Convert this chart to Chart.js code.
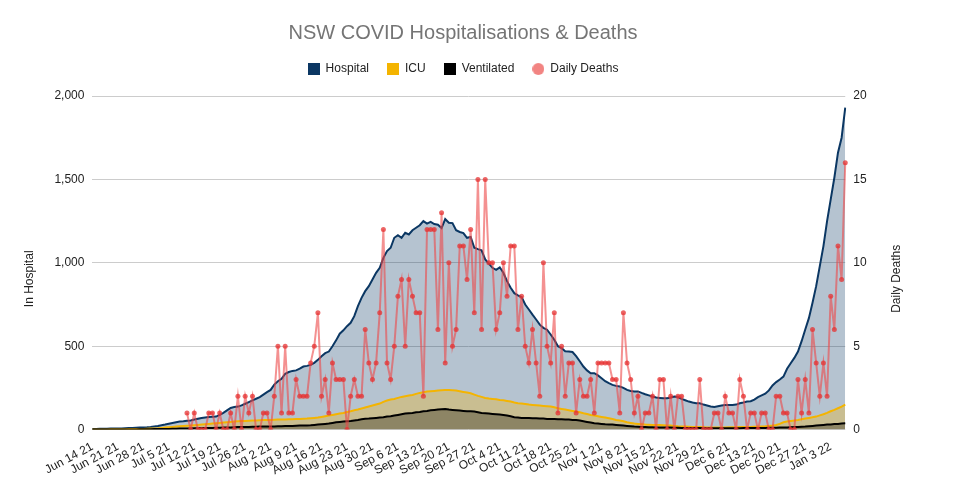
<!DOCTYPE html>
<html lang="en">
<head>
    <meta charset="UTF-8">
    <title>NSW COVID Hospitalisations & Deaths</title>
    <script src="https://cdn.jsdelivr.net/npm/chart.js@4.4.0/dist/chart.umd.min.js"></script>
    <style>
        body { margin: 0; background: #fff; }
        #wrap { width: 973px; height: 480px; }
    </style>
</head>
<body>
<div id="wrap"><canvas id="my-chart"></canvas></div>
<script>

    // week tick labels (every 7th day, starting Jun 14 2021)
    const weekLabels = ['Jun 14 21', 'Jun 21 21', 'Jun 28 21', 'Jul 5 21', 'Jul 12 21', 'Jul 19 21', 'Jul 26 21',
        'Aug 2 21', 'Aug 9 21', 'Aug 16 21', 'Aug 23 21', 'Aug 30 21', 'Sep 6 21', 'Sep 13 21', 'Sep 20 21',
        'Sep 27 21', 'Oct 4 21', 'Oct 11 21', 'Oct 18 21', 'Oct 25 21', 'Nov 1 21', 'Nov 8 21', 'Nov 15 21',
        'Nov 22 21', 'Nov 29 21', 'Dec 6 21', 'Dec 13 21', 'Dec 20 21', 'Dec 27 21', 'Jan 3 22'];

    const hospital = [
        4, 4, 5, 5, 5, 6, 6, 7, 7, 8,
        9, 10, 11, 12, 13, 14, 16, 19, 22, 26,
        30, 35, 40, 44, 48, 50, 53, 55, 60, 65,
        70, 73, 75, 77, 78, 88, 100, 115, 130, 135,
        138, 145, 155, 165, 175, 185, 195, 210, 225, 238,
        270, 290, 305, 335, 345, 352, 355, 365, 378, 382,
        388, 400, 418, 440, 458, 468, 500, 535, 575, 595,
        620, 640, 680, 740, 790, 830, 860, 900, 940, 970,
        1030, 1070, 1090, 1150, 1165, 1150, 1180, 1170, 1195, 1210,
        1225, 1250, 1235, 1245, 1232, 1228, 1208, 1262, 1240, 1238,
        1195, 1185, 1178, 1150, 1155, 1090, 1082, 1075, 1020, 995,
        970, 958, 973, 940, 890, 850, 818, 805, 795, 750,
        720, 689, 660, 629, 610, 599, 570, 539, 500, 488,
        470, 468, 465, 440, 410, 378, 355, 338, 338, 325,
        308, 290, 278, 268, 262, 258, 250, 238, 232, 228,
        229, 220, 212, 205, 198, 192, 190, 188, 188, 192,
        198, 195, 184, 176, 168, 162, 158, 158, 150, 144,
        138, 136, 140, 144, 148, 148, 148, 150, 158, 162,
        168, 170, 180, 195, 205, 215, 235, 265, 285, 300,
        318, 365, 398, 430, 468, 530, 600, 668, 760, 860,
        980, 1100, 1250, 1380, 1510, 1660, 1750, 1930
    ];

    const icu = [
        1, 1, 1, 1, 1, 2, 2, 2, 2, 2,
        3, 3, 3, 4, 4, 5, 6, 7, 8, 10,
        12, 14, 16, 18, 20, 22, 23, 24, 26, 28,
        30, 32, 34, 36, 38, 40, 42, 44, 46, 48,
        50, 51, 52, 53, 54, 55, 56, 57, 58, 58,
        59, 60, 60, 61, 62, 62, 63, 64, 65, 66,
        68, 70, 72, 76, 80, 84, 88, 92, 96, 100,
        106, 110, 116, 120, 126, 132, 138, 144, 150, 156,
        166, 174, 180, 184, 190, 196, 200, 204, 208, 214,
        220, 224, 228, 230, 232, 234, 236, 238, 238, 236,
        234, 230, 226, 222, 218, 210, 202, 196, 190, 186,
        184, 182, 178, 176, 172, 168, 162, 158, 156, 154,
        150, 148, 146, 144, 142, 140, 138, 134, 128, 124,
        120, 116, 112, 108, 104, 98, 94, 88, 84, 80,
        76, 72, 68, 64, 58, 54, 50, 44, 40, 36,
        34, 32, 30, 29, 28, 28, 27, 26, 25, 24,
        22, 20, 19, 18, 17, 16, 15, 15, 14, 13,
        12, 12, 12, 13, 13, 14, 14, 14, 15, 15,
        16, 16, 17, 18, 19, 20, 22, 24, 28, 34,
        44, 48, 52, 55, 58, 62, 66, 70, 74, 78,
        85, 92, 100, 110, 118, 128, 138, 150
    ];

    const ventilated = [
        0, 0, 0, 0, 0, 1, 1, 1, 1, 1,
        1, 1, 1, 2, 2, 2, 2, 3, 3, 3,
        4, 4, 5, 5, 6, 6, 7, 7, 8, 8,
        9, 9, 10, 10, 11, 11, 12, 12, 13, 14,
        15, 15, 16, 16, 17, 17, 18, 18, 18, 18,
        19, 20, 20, 21, 22, 22, 23, 24, 24, 25,
        26, 28, 30, 32, 34, 36, 40, 44, 46, 48,
        50, 52, 55, 58, 62, 65, 66, 68, 70, 72,
        74, 78, 80, 84, 88, 92, 96, 98, 100, 104,
        106, 110, 112, 116, 118, 120, 122, 124, 120, 118,
        116, 114, 112, 110, 110, 108, 104, 100, 98, 96,
        94, 92, 90, 88, 84, 80, 74, 72, 70, 70,
        70, 68, 68, 66, 66, 64, 64, 64, 62, 62,
        60, 60, 58, 58, 54, 50, 46, 42, 38, 36,
        34, 32, 31, 30, 28, 26, 24, 22, 20, 18,
        17, 16, 15, 14, 14, 13, 13, 12, 12, 12,
        11, 11, 10, 10, 10, 9, 9, 9, 8, 8,
        8, 8, 8, 8, 8, 8, 8, 8, 8, 9,
        9, 9, 9, 10, 10, 10, 11, 11, 11, 12,
        12, 13, 14, 15, 16, 17, 18, 20, 22, 24,
        26, 28, 30, 31, 33, 34, 36, 38
    ];

    const deaths = [
        null, null, null, null, null, null, null, null, null, null,
        null, null, null, null, null, null, null, null, null, null,
        null, null, null, null, null, null, 1, 0, 1, 0,
        0, 0, 1, 1, 0, 1, 0, 0, 1, 0,
        2, 0, 2, 1, 2, 0, 0, 1, 1, 0,
        2, 5, 1, 5, 1, 1, 3, 2, 2, 2,
        4, 5, 7, 2, 3, 1, 4, 3, 3, 3,
        0, 2, 3, 2, 2, 6, 4, 3, 4, 7,
        12, 4, 3, 5, 8, 9, 5, 9, 8, 7,
        7, 2, 12, 12, 12, 6, 13, 4, 10, 5,
        6, 11, 11, 9, 12, 7, 15, 6, 15, 10,
        10, 6, 7, 10, 8, 11, 11, 6, 8, 5,
        4, 6, 4, 2, 10, 5, 4, 7, 1, 5,
        2, 4, 4, 1, 3, 2, 2, 3, 1, 4,
        4, 4, 4, 3, 3, 1, 7, 4, 3, 1,
        2, 0, 1, 1, 2, 0, 3, 3, 0, 2,
        0, 2, 2, 0, 0, 0, 0, 3, 0, 0,
        0, 1, 1, 0, 2, 1, 1, 0, 3, 2,
        0, 1, 1, 0, 1, 1, 0, 0, 2, 2,
        1, 1, 0, 0, 3, 1, 3, 1, 6, 4,
        2, 4, 2, 8, 6, 11, 9, 16
    ];

    // one category per day
    const days = [];
    const d = new Date(2021, 5, 14);
    for (let i = 0; i < hospital.length; i++) {
        days.push(d.toDateString());
        d.setDate(d.getDate() + 1);
    }

    const font = "'Liberation Sans', Arial, sans-serif";

    // little legend markers
    function marker(color, round) {
        const c = document.createElement('canvas');
        c.width = 12; c.height = 12;
        const g = c.getContext('2d');
        g.fillStyle = color;
        if (round) {
            g.beginPath(); g.arc(6, 6, 6, 0, Math.PI * 2); g.fill();
        } else {
            g.fillRect(0, 0, 12, 12);
        }
        return c;
    }
    const markers = [marker('#0b3763'), marker('#f4b400'), marker('#000000'), marker('#f28482', true)];

    // axis titles drawn bottom-to-top on both sides, a bit below the middle
    const axisTitles = {
        id: 'axisTitles',
        afterDraw(chart) {
            const { ctx, chartArea } = chart;
            const midY = (chartArea.top + chartArea.bottom) / 2 + 16;
            ctx.save();
            ctx.font = '12px ' + font;
            ctx.fillStyle = '#222';
            ctx.textAlign = 'center';
            ctx.textBaseline = 'middle';
            [[30, 'In Hospital'], [chartArea.right + 51, 'Daily Deaths']].forEach(([x, txt]) => {
                ctx.save();
                ctx.translate(x, midY);
                ctx.rotate(-Math.PI / 2);
                ctx.fillText(txt, 0, 0);
                ctx.restore();
            });
            ctx.restore();
        }
    };

    // some room under the legend
    const legendGap = {
        id: 'legendGap',
        beforeInit(chart) {
            const fit = chart.legend.fit;
            chart.legend.fit = function () {
                fit.bind(chart.legend)();
                this.height += 11;
            };
        }
    };

    const data = {
        labels: days,
        datasets: [{
            label: 'Hospital',
            data: hospital,
            borderColor: '#0b3763',
            backgroundColor: 'rgba(11,55,99,0.3)',
            borderWidth: 2,
            fill: 'origin',
            pointRadius: 0,
            tension: 0,
            order: 3,
            yAxisID: 'y'
        }, {
            label: 'ICU',
            data: icu,
            borderColor: '#f4b400',
            backgroundColor: 'rgba(244,180,0,0.3)',
            borderWidth: 2,
            fill: 'origin',
            pointRadius: 0,
            tension: 0,
            order: 2,
            yAxisID: 'y'
        }, {
            label: 'Ventilated',
            data: ventilated,
            borderColor: '#000000',
            backgroundColor: 'rgba(0,0,0,0.3)',
            borderWidth: 2,
            fill: 'origin',
            pointRadius: 0,
            tension: 0,
            order: 1,
            yAxisID: 'y'
        }, {
            label: 'Daily Deaths',
            data: deaths,
            borderColor: 'rgba(236,72,72,0.6)',
            backgroundColor: 'rgba(230,50,50,0.75)',
            pointBackgroundColor: 'rgba(230,50,50,0.75)',
            pointBorderWidth: 0,
            pointRadius: 2.5,
            borderWidth: 2,
            fill: false,
            tension: 0,
            order: 0,
            yAxisID: 'y1'
        }]
    };

    const config = {
        type: 'line',
        data: data,
        plugins: [axisTitles, legendGap],
        options: {
            responsive: true,
            maintainAspectRatio: false,
            animation: false,
            layout: { padding: { left: 20, right: 67, top: 0, bottom: 0 } },
            plugins: {
                title: {
                    display: true,
                    text: 'NSW COVID Hospitalisations & Deaths',
                    color: '#757575',
                    font: { family: font, size: 20, weight: 'normal' },
                    padding: { top: 21, bottom: 0 }
                },
                legend: {
                    labels: {
                        color: '#222',
                        font: { family: font, size: 12 },
                        usePointStyle: true,
                        boxWidth: 12,
                        boxHeight: 12,
                        padding: 18,
                        generateLabels: (chart) => {
                            const items = Chart.defaults.plugins.legend.labels.generateLabels(chart);
                            items.sort((a, b) => a.datasetIndex - b.datasetIndex);
                            items.forEach((it) => {
                                it.pointStyle = markers[it.datasetIndex];
                                it.lineWidth = 0;
                            });
                            return items;
                        }
                    }
                },
                tooltip: { enabled: false }
            },
            scales: {
                x: {
                    grid: { display: false },
                    border: { display: false },
                    ticks: {
                        autoSkip: false,
                        minRotation: 28,
                        maxRotation: 28,
                        color: '#222',
                        padding: 2,
                        font: { family: font, size: 12 },
                        callback: (val, i) => (i % 7 === 0 ? weekLabels[i / 7] : null)
                    }
                },
                y: {
                    position: 'left',
                    min: 0,
                    max: 2000,
                    border: { display: false },
                    grid: { color: '#cccccc', drawTicks: false },
                    ticks: {
                        stepSize: 500,
                        padding: 8,
                        color: '#222',
                        font: { family: font, size: 12 },
                        callback: (v) => v.toLocaleString('en-US')
                    },
                    title: {
                        display: true,
                        text: 'In Hospital',
                        color: 'rgba(0,0,0,0)',
                        font: { family: font, size: 12 },
                        padding: { bottom: 8 }
                    }
                },
                y1: {
                    position: 'right',
                    min: 0,
                    max: 20,
                    border: { display: false },
                    grid: { drawOnChartArea: false, drawTicks: false },
                    ticks: {
                        stepSize: 5,
                        padding: 8,
                        color: '#222',
                        font: { family: font, size: 12 }
                    },
                    title: {
                        display: true,
                        text: 'Daily Deaths',
                        color: 'rgba(0,0,0,0)',
                        font: { family: font, size: 12 },
                        padding: { top: 13 }
                    }
                }
            }
        }
    };

    const chart = new Chart(document.getElementById('my-chart'), config);

</script>
</body>
</html>
